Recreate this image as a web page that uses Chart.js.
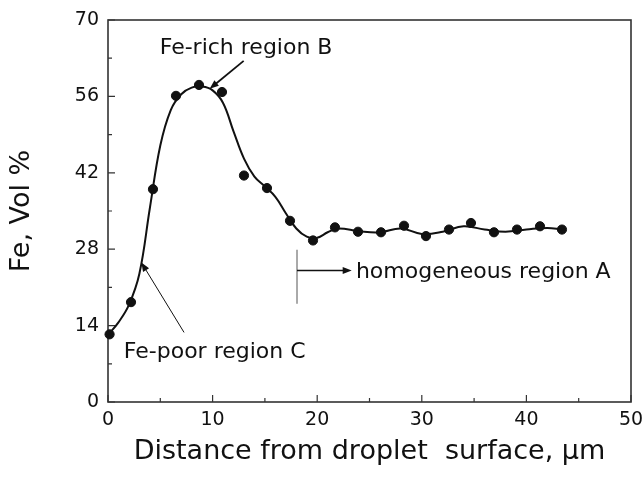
<!DOCTYPE html>
<html lang="en">
<head>
<meta charset="utf-8">
<title>Fe content vs distance from droplet surface</title>
<script src="https://cdn.jsdelivr.net/npm/chart.js"></script>
<style>
  html, body { margin: 0; padding: 0; background: #fff; }
</style>
</head>
<body>
<canvas id="feChart" width="644" height="484"></canvas>
<script>
// measured points (distance in um, Fe in vol %)
var distance = [0.15, 2.2, 4.3, 6.5, 8.7, 10.9, 13.0, 15.2, 17.4, 19.6, 21.7,
                23.9, 26.1, 28.3, 30.4, 32.6, 34.7, 36.9, 39.1, 41.3, 43.4];
var feVol = [12.4, 18.3, 39.0, 56.1, 58.1, 56.8, 41.5, 39.2, 33.2, 29.6, 32.0,
             31.2, 31.1, 32.3, 30.4, 31.6, 32.8, 31.1, 31.6, 32.2, 31.6];

// smooth fitted curve
var fitX = [0, 1, 2, 3, 4, 5, 6, 7, 8, 9, 10, 11, 12, 13, 14, 15, 16, 17, 18, 19,
            20, 21, 22, 24, 26, 28, 30, 32, 34, 36, 38, 40, 42, 43.4];
var fitY = [12.3, 14.6, 17.8, 23.5, 35.5, 47.0, 53.5, 56.4, 57.6, 57.8, 57.1, 54.8,
            49.6, 44.6, 41.3, 39.5, 37.6, 34.6, 31.8, 30.3, 30.1, 31.1, 31.8, 31.3,
            31.1, 31.8, 30.8, 31.2, 32.2, 31.6, 31.2, 31.6, 31.9, 31.6];

var xTicks = [0, 10, 20, 30, 40, 50];
var yTicks = [0, 14, 28, 42, 56, 70];

var FONT = 'DejaVu Sans';

function arrow(ctx, x1, y1, x2, y2, width) {
  var ang = Math.atan2(y2 - y1, x2 - x1);
  var len = 9, half = 3.5;
  ctx.lineWidth = width;
  ctx.beginPath();
  ctx.moveTo(x1, y1);
  ctx.lineTo(x2 - Math.cos(ang) * len * 0.8, y2 - Math.sin(ang) * len * 0.8);
  ctx.stroke();
  ctx.beginPath();
  ctx.moveTo(x2, y2);
  ctx.lineTo(x2 - Math.cos(ang) * len + Math.sin(ang) * half, y2 - Math.sin(ang) * len - Math.cos(ang) * half);
  ctx.lineTo(x2 - Math.cos(ang) * len - Math.sin(ang) * half, y2 - Math.sin(ang) * len + Math.cos(ang) * half);
  ctx.closePath();
  ctx.fill();
}

var framePlugin = {
  id: 'frame',
  beforeDatasetsDraw: function (chart) {
    var ctx = chart.ctx, a = chart.chartArea;
    var xs = chart.scales.x, ys = chart.scales.y;
    ctx.save();
    ctx.strokeStyle = '#333';
    ctx.lineWidth = 1.6;
    ctx.strokeRect(a.left, a.top, a.right - a.left, a.bottom - a.top);
    ctx.lineWidth = 1.2;
    ctx.beginPath();
    for (var i = 0; i < xTicks.length; i++) {
      var px = xs.getPixelForValue(xTicks[i]);
      ctx.moveTo(px, a.bottom); ctx.lineTo(px, a.bottom - 7);
      if (i < xTicks.length - 1) {
        var mx = xs.getPixelForValue((xTicks[i] + xTicks[i + 1]) / 2);
        ctx.moveTo(mx, a.bottom); ctx.lineTo(mx, a.bottom - 4);
      }
    }
    for (var j = 0; j < yTicks.length; j++) {
      var py = ys.getPixelForValue(yTicks[j]);
      ctx.moveTo(a.left, py); ctx.lineTo(a.left + 7, py);
      if (j < yTicks.length - 1) {
        var my = ys.getPixelForValue((yTicks[j] + yTicks[j + 1]) / 2);
        ctx.moveTo(a.left, my); ctx.lineTo(a.left + 4, my);
      }
    }
    ctx.stroke();
    ctx.restore();
  },
  afterDatasetsDraw: function (chart) {
    var ctx = chart.ctx;
    var X = function (v) { return chart.scales.x.getPixelForValue(v); };
    var Y = function (v) { return chart.scales.y.getPixelForValue(v); };
    ctx.save();
    ctx.fillStyle = '#111';
    ctx.strokeStyle = '#111';
    ctx.font = '22px "' + FONT + '"';
    ctx.textBaseline = 'middle';

    // region B
    ctx.textAlign = 'center';
    ctx.fillText('Fe-rich region B', X(13.2), Y(64.9));
    arrow(ctx, X(12.97), Y(62.5), X(9.72), Y(57.4), 1.8);

    // region C
    ctx.fillText('Fe-poor region C', X(10.2), Y(9.1));
    arrow(ctx, X(7.27), Y(12.75), X(3.19), Y(25.56), 1);

    // region A
    ctx.textAlign = 'left';
    ctx.fillText('homogeneous region A', X(23.7), Y(23.7));
    ctx.strokeStyle = '#555';
    ctx.lineWidth = 1;
    ctx.beginPath();
    ctx.moveTo(X(18.07), Y(27.9));
    ctx.lineTo(X(18.07), Y(18.0));
    ctx.stroke();
    ctx.strokeStyle = '#111';
    arrow(ctx, X(18.07), Y(24.1), X(23.3), Y(24.1), 1.5);
    ctx.restore();
  }
};

var ctx = document.getElementById('feChart').getContext('2d');
var feChart = new Chart(ctx, {
  type: 'scatter',
  data: {
    datasets: [{
      label: 'Fit',
      data: fitX.map(function (x, i) { return {x: x, y: fitY[i]}; }),
      showLine: true,
      tension: 0.4,
      borderColor: '#111',
      borderWidth: 2,
      pointRadius: 0
    }, {
      label: 'Fe, Vol %',
      data: distance.map(function (x, i) { return {x: x, y: feVol[i]}; }),
      showLine: false,
      pointRadius: 4.6,
      pointBackgroundColor: '#111',
      pointBorderColor: '#111',
      clip: false
    }]
  },
  options: {
    responsive: false,
    animation: false,
    devicePixelRatio: 1,
    layout: { padding: { left: 0, right: 13, top: 20, bottom: 0 } },
    plugins: { legend: { display: false }, tooltip: { enabled: false } },
    scales: {
      x: {
        type: 'linear', min: 0, max: 50,
        grid: { display: false, drawTicks: false },
        border: { display: false },
        afterBuildTicks: function (s) { s.ticks = xTicks.map(function (v) { return {value: v}; }); },
        afterFit: function (s) { s.height = 82; s.paddingLeft = 0; s.paddingRight = 0; },
        ticks: { padding: 7, color: '#111', font: { family: FONT, size: 19 } },
        title: {
          display: true, text: 'Distance from droplet  surface, μm', color: '#111',
          font: { family: FONT, size: 27 }, padding: { top: 16, bottom: 16 }
        }
      },
      y: {
        type: 'linear', min: 0, max: 70,
        grid: { display: false, drawTicks: false },
        border: { display: false },
        afterBuildTicks: function (s) { s.ticks = yTicks.map(function (v) { return {value: v}; }); },
        afterFit: function (s) { s.width = 108; s.paddingTop = 0; s.paddingBottom = 0; },
        ticks: { padding: 9, color: '#111', font: { family: FONT, size: 19 } },
        title: {
          display: true, text: 'Fe, Vol %', color: '#111',
          font: { family: FONT, size: 27 }, padding: { top: 6, bottom: 0 }
        }
      }
    }
  },
  plugins: [framePlugin]
});
</script>
</body>
</html>
